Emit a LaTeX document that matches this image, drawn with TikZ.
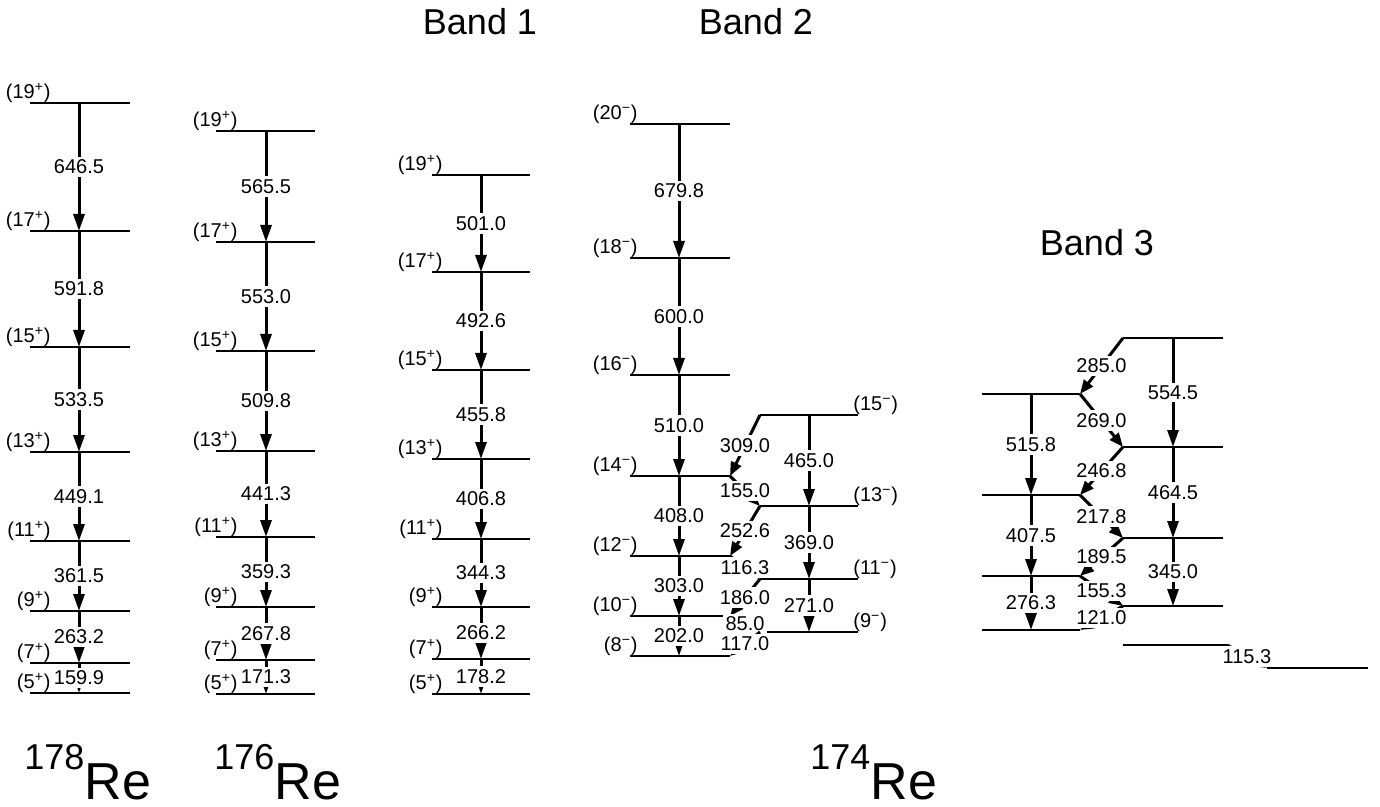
\documentclass[tikz,border=0pt]{standalone}
\usepackage{fontspec}
\setmainfont{Liberation Sans}
\usetikzlibrary{arrows.meta}

\tikzset{
  level/.style={line width=1.1pt},
  gam/.style={line width=1.5pt,-{Triangle[length=8.5pt,width=5.5pt]}},
  gamx/.style={line width=1.5pt,-{Triangle[length=7pt,width=5.5pt]}},
  elab/.style={fill=white,inner sep=1.5pt,font=\fontsize{10}{10}\selectfont},
  spinl/.style={anchor=south east,inner sep=0pt,font=\fontsize{10}{10}\selectfont},
  spinr/.style={anchor=south west,inner sep=0pt,font=\fontsize{10}{10}\selectfont},
  bandlab/.style={font=\fontsize{18}{18}\selectfont},
  isolab/.style={anchor=base west,inner sep=0pt}
}
\newcommand{\pj}[2]{(#1\textsuperscript{#2})}
\newcommand{\nucl}[1]{\raisebox{0pt}[\height][0pt]{{\fontsize{18}{18}\selectfont\raisebox{15pt}{#1}}{\fontsize{26}{26}\selectfont Re}}}

\begin{document}
\begin{tikzpicture}[x=0.5pt,y=-0.5pt]
\useasboundingbox (0,0) rectangle (1380,807);

% 178Re
\foreach \y/\j [count=\i] in {103/19,231/17,347/15,452/13,541/11,611/9,663/7,693/5} {
  \draw[level] (30,\y) -- (130,\y);
  \coordinate (a\i) at (79,\y);
  \node[spinl] (ja\i) at (51,\y) {\pj{\j}{+}};
}
\foreach \e [count=\i] in {646.5,591.8,533.5,449.1,361.5,263.2,159.9} {
  \pgfmathtruncatemacro{\k}{\i+1}
  \draw[gam] (a\i) -- node[elab] (ea\i) {\e} (a\k);
}

% 176Re
\foreach \y/\j [count=\i] in {131/19,242/17,351/15,451/13,537/11,607/9,660/7,694/5} {
  \draw[level] (216,\y) -- (315,\y);
  \coordinate (r\i) at (266,\y);
  \node[spinl] (jr\i) at (238,\y) {\pj{\j}{+}};
}
\foreach \e [count=\i] in {565.5,553.0,509.8,441.3,359.3,267.8,171.3} {
  \pgfmathtruncatemacro{\k}{\i+1}
  \draw[gam] (r\i) -- node[elab] (er\i) {\e} (r\k);
}

% 174Re, band 1
\foreach \y/\j [count=\i] in {175/19,272/17,370/15,459/13,539/11,607/9,659/7,694/5} {
  \draw[level] (432,\y) -- (530,\y);
  \coordinate (p\i) at (481,\y);
  \node[spinl] (jp\i) at (443,\y) {\pj{\j}{+}};
}
\foreach \e [count=\i] in {501.0,492.6,455.8,406.8,344.3,266.2,178.2} {
  \pgfmathtruncatemacro{\k}{\i+1}
  \draw[gam] (p\i) -- node[elab] (ep\i) {\e} (p\k);
}

% 174Re, band 2
\foreach \y/\j [count=\i] in {124/20,258/18,375/16,476/14,556/12,616/10,656/8} {
  \draw[level] (630,\y) coordinate (bL\i) -- (730,\y) coordinate (bR\i);
  \coordinate (b\i) at (679,\y);
  \node[spinl] (jb\i) at (638,\y) {\pj{\j}{−}};
}
\foreach \e [count=\i] in {679.8,600.0,510.0,408.0,303.0,202.0} {
  \pgfmathtruncatemacro{\k}{\i+1}
  \draw[gam] (b\i) -- node[elab] (eb\i) {\e} (b\k);
}
\foreach \y/\j [count=\i] in {415/15,506/13,579/11,632/9} {
  \draw[level] (760,\y) coordinate (cL\i) -- (858,\y) coordinate (cR\i);
  \coordinate (c\i) at (809,\y);
  \node[spinr] (jc\i) at (853,\y) {\pj{\j}{−}};
}
\foreach \e [count=\i] in {465.0,369.0,271.0} {
  \pgfmathtruncatemacro{\k}{\i+1}
  \draw[gam] (c\i) -- node[elab] (ec\i) {\e} (c\k);
}
\foreach \from/\to/\e [count=\i] in {cL1/bR4/309.0,bR4/cL2/155.0,cL2/bR5/252.6,bR5/cL3/116.3,
    cL3/bR6/186.0,bR6/cL4/85.0,cL4/bR7/117.0} {
  \draw[gamx] (\from) -- node[elab] (xb\i) {\e} (\to);
}

% 174Re, band 3
\foreach \y [count=\i] in {394,495,576,630} {
  \draw[level] (982,\y) coordinate (dL\i) -- (1080,\y) coordinate (dR\i);
  \coordinate (d\i) at (1031,\y);
}
\foreach \y [count=\i] in {338,447,538,606} {
  \draw[level] (1123,\y) coordinate (eL\i) -- (1223,\y) coordinate (eR\i);
  \coordinate (e\i) at (1173,\y);
}
\draw[level] (1123,645) coordinate (eL5) -- (1227,645) coordinate (eR5);
\draw[level] (1267,668) coordinate (gL) -- (1368,668) coordinate (gR);
\foreach \e [count=\i] in {515.8,407.5,276.3} {
  \pgfmathtruncatemacro{\k}{\i+1}
  \draw[gam] (d\i) -- node[elab] (ed\i) {\e} (d\k);
}
\foreach \e [count=\i] in {554.5,464.5,345.0} {
  \pgfmathtruncatemacro{\k}{\i+1}
  \draw[gam] (e\i) -- node[elab] (ee\i) {\e} (e\k);
}
\foreach \from/\to/\e [count=\i] in {eL1/dR1/285.0,dR1/eL2/269.0,eL2/dR2/246.8,dR2/eL3/217.8,
    eL3/dR3/189.5,dR3/eL4/155.3,eL4/dR4/121.0,eR5/gL/115.3} {
  \draw[gamx] (\from) -- node[elab] (xd\i) {\e} (\to);
}

\node[bandlab] (band1) at (480,22) {Band 1};
\node[bandlab] (band2) at (756,22) {Band 2};
\node[bandlab] (band3) at (1097,243) {Band 3};

\node[isolab] (re178) at (24,799) {\nucl{178}};
\node[isolab] (re176) at (214,799) {\nucl{176}};
\node[isolab] (re174) at (810,799) {\nucl{174}};
\end{tikzpicture}
\end{document}
